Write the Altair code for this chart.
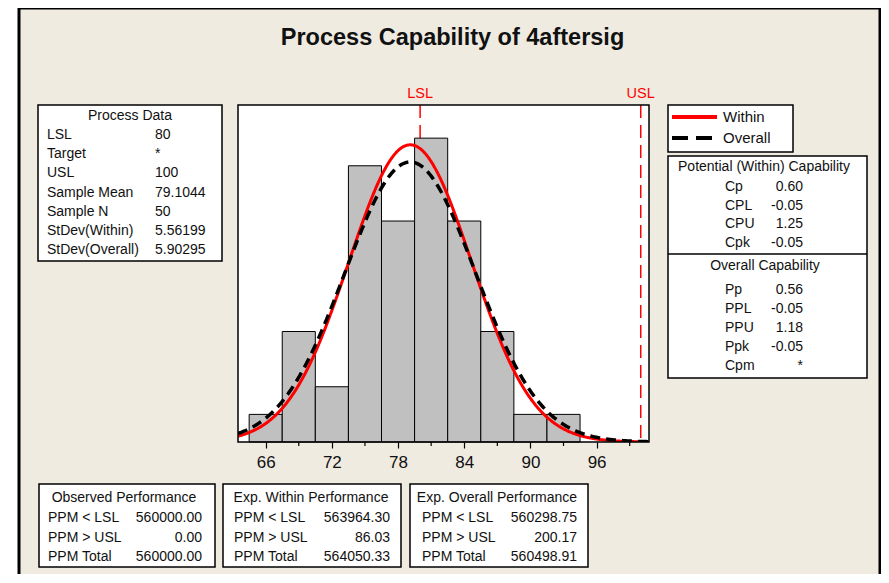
import altair as alt
import pandas as pd

# ---------------- data ----------------
BIN_START = [64.5, 67.5, 70.5, 73.5, 76.5, 79.5, 82.5, 85.5, 88.5, 91.5]
BIN_END = [67.5, 70.5, 73.5, 76.5, 79.5, 82.5, 85.5, 88.5, 91.5, 94.5]
COUNTS = [1, 4, 2, 10, 8, 11, 8, 4, 1, 1]
SPEC_NAMES = ["LSL", "USL"]
SPEC_VALUES = [80, 100]
MEAN = 79.1044
N = 50
SD_WITHIN = 5.56199
SD_OVERALL = 5.90295
BIN_WIDTH = 3
X_TICKS = [66, 72, 78, 84, 90, 96]
X_MINOR = [69, 75, 81, 87, 93, 99]

TITLE = "Process Capability of 4aftersig"
PROCESS_LABELS = ["LSL", "Target", "USL", "Sample Mean", "Sample N",
                  "StDev(Within)", "StDev(Overall)"]
PROCESS_VALUES = ["80", "*", "100", "79.1044", "50", "5.56199", "5.90295"]
WITHIN_LABELS = ["Cp", "CPL", "CPU", "Cpk"]
WITHIN_VALUES = ["0.60", "-0.05", "1.25", "-0.05"]
OVERALL_LABELS = ["Pp", "PPL", "PPU", "Ppk", "Cpm"]
OVERALL_VALUES = ["0.56", "-0.05", "1.18", "-0.05", "*"]
PPM_LABELS = ["PPM < LSL", "PPM > USL", "PPM Total"]
OBS_VALUES = ["560000.00", "0.00", "560000.00"]
EXP_WITHIN_VALUES = ["563964.30", "86.03", "564050.33"]
EXP_OVERALL_VALUES = ["560298.75", "200.17", "560498.91"]

# ---------------- layout / style ----------------
W, H = 411, 337
XDOM = [63.49, 100.75]
YDOM = [0, 12.2]
FONT = "Liberation Sans"
FS = 14
BG = "#EFEBE1"
INK = "#111111"

xs = alt.Scale(domain=XDOM, nice=False, zero=False)
ys = alt.Scale(domain=YDOM, nice=False, zero=False)
XAX = alt.Axis(values=X_TICKS, format="d", tickSize=6, tickWidth=1.2, tickColor="black",
               labelFont=FONT, labelFontSize=17, labelColor=INK, labelPadding=6,
               domain=False, grid=False, title=None, zindex=1, labelFlush=False)
one = pd.DataFrame({"k": [0]})


def rect(x1, x2, y1, y2, fill="white", stroke="black", sw=1.5, **kw):
    return alt.Chart(one).mark_rect(fill=fill, stroke=stroke, strokeWidth=sw, **kw).encode(
        x=alt.value(x1), x2=alt.value(x2), y=alt.value(y1), y2=alt.value(y2))


def hline(x1, x2, y, color="black", sw=1.5, dash=None):
    kw = {"strokeDash": dash} if dash else {}
    return alt.Chart(one).mark_rule(color=color, strokeWidth=sw, **kw).encode(
        x=alt.value(x1), x2=alt.value(x2), y=alt.value(y))


def label(text, x, y, align="center", size=FS, weight="normal", color=INK, baseline="middle"):
    return alt.Chart(one).mark_text(text=text, x=x, y=y, align=align, baseline=baseline,
                                    font=FONT, fontSize=size, fontWeight=weight, color=color)


def table(labels, values, y0, dy, xl, xv, valign="left"):
    df = pd.DataFrame({"label": labels, "value": values, "i": list(range(len(labels)))})
    base = alt.Chart(df).transform_calculate(py=f"{y0} + datum.i * {dy}")
    lab = base.mark_text(align="left", baseline="middle", x=xl, font=FONT,
                         fontSize=FS, color=INK).encode(
        y=alt.Y("py:Q", scale=None), text="label:N")
    val = base.mark_text(align=valign, baseline="middle", x=xv, font=FONT,
                         fontSize=FS, color=INK).encode(
        y=alt.Y("py:Q", scale=None), text="value:N")
    return [lab, val]


layers = []

# panel background with black border
layers.append(rect(-219, 642, -97, 480, fill=BG, stroke="black", sw=3))
# plot area
layers.append(rect(0, W, 0, H, fill="white", stroke="white", sw=0))

# title
layers.append(label(TITLE, 214.5, -60, size=23.5, weight="bold", baseline="alphabetic"))

# process data box
layers.append(rect(-200, -16, 0, 156))
layers.append(label("Process Data", -108, 11))
layers += table(PROCESS_LABELS, PROCESS_VALUES, 30, 19.17, -191, -83)

# legend box
layers.append(rect(430, 555, 0, 47))
layers.append(hline(434, 479, 12, color="red", sw=4))
layers.append(hline(434, 474, 33, color="black", sw=4, dash=[16, 8]))
layers.append(label("Within", 485, 12, align="left", size=15))
layers.append(label("Overall", 485, 33, align="left", size=15))

# capability box
layers.append(rect(430, 629, 51, 273))
layers.append(hline(430, 629, 149, sw=1.5))
layers.append(label("Potential (Within) Capability", 526, 62))
layers += table(WITHIN_LABELS, WITHIN_VALUES, 82, 18.7, 487, 565, valign="right")
layers.append(label("Overall Capability", 527, 161))
layers += table(OVERALL_LABELS, OVERALL_VALUES, 185, 19, 487, 565, valign="right")

# performance boxes
for (bx1, bx2, head, hx, lx, vx, vals) in [
    (-199, -23, "Observed Performance", -114, -190, -36, OBS_VALUES),
    (-15, 163, "Exp. Within Performance", 73, -4, 152, EXP_WITHIN_VALUES),
    (172, 350, "Exp. Overall Performance", 259, 184, 339, EXP_OVERALL_VALUES),
]:
    layers.append(rect(bx1, bx2, 379, 462))
    layers.append(label(head, hx, 393))
    layers += table(PPM_LABELS, vals, 413, 19.5, lx, vx, valign="right")

# spec limit lines and labels
spec = pd.DataFrame({"name": SPEC_NAMES, "v": SPEC_VALUES})
layers.append(alt.Chart(spec).mark_rule(color="red", strokeWidth=1.5, strokeDash=[13, 7]).encode(
    x=alt.X("v:Q", scale=xs, axis=XAX)))
layers.append(alt.Chart(spec).mark_text(color="red", font=FONT, fontSize=14.5, baseline="middle",
                                         y=-11).encode(
    x=alt.X("v:Q", scale=xs, axis=XAX), text="name:N"))

# histogram
hist = pd.DataFrame({"start": BIN_START, "end": BIN_END, "count": COUNTS})
layers.append(alt.Chart(hist).mark_rect(fill="#C0C0C0", stroke="black", strokeWidth=1).encode(
    x=alt.X("start:Q", scale=xs, axis=XAX),
    x2="end:Q",
    y=alt.Y("count:Q", scale=ys, axis=None),
    y2=alt.datum(0)))

# fitted normal curves (from the stated mean / standard deviations)
curves = alt.Chart(alt.sequence(XDOM[0], XDOM[1] + 0.01, 0.05, as_="x")).transform_calculate(
    within=f"{N * BIN_WIDTH} * densityNormal(datum.x, {MEAN}, {SD_WITHIN})",
    overall=f"{N * BIN_WIDTH} * densityNormal(datum.x, {MEAN}, {SD_OVERALL})")
layers.append(curves.mark_line(color="red", strokeWidth=3, clip=True).encode(
    x=alt.X("x:Q", scale=xs, axis=XAX), y=alt.Y("within:Q", scale=ys, axis=None)))
layers.append(curves.mark_line(color="black", strokeWidth=3.5, strokeDash=[10, 6], clip=True).encode(
    x=alt.X("x:Q", scale=xs, axis=XAX), y=alt.Y("overall:Q", scale=ys, axis=None)))

# minor ticks
minor = pd.DataFrame({"m": X_MINOR})
layers.append(alt.Chart(minor).mark_rule(color="black", strokeWidth=1.2).encode(
    x=alt.X("m:Q", scale=xs, axis=XAX), y=alt.value(H), y2=alt.value(H + 4)))

# plot frame
layers.append(rect(0, W, 0, H, fill="white", stroke="black", sw=1.5, fillOpacity=0))

chart = alt.layer(*layers).properties(
    width=W, height=H,
    padding={"left": 230, "top": 97, "right": 232, "bottom": 132},
    autosize=alt.AutoSizeParams(type="none"),
    background="white",
).configure_view(stroke=None)

chart.save("out.html", embed_options={"renderer": "svg", "actions": False})
